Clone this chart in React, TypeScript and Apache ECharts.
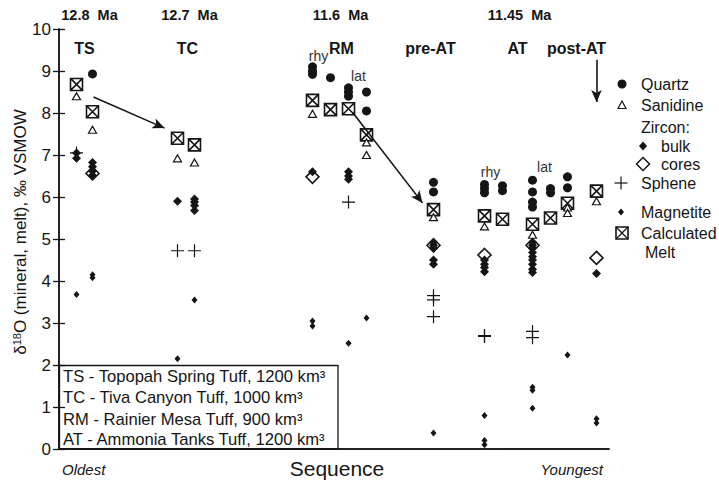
import React, { useEffect, useRef } from "react";
import * as echarts from "echarts";

// ---- Sample columns along the sequence axis (0 = oldest edge, 550 = youngest edge)
const columns = ["TS-1", "TS-2", "TC-1", "TC-2", "RM-rhy-1", "RM-rhy-2", "RM-lat-1", "RM-lat-2", "pre-AT", "AT-rhy-1", "AT-rhy-2", "AT-lat-1", "AT-lat-2", "AT-lat-3", "post-AT"];
const columnPos = [17.5, 33.5, 118.5, 135.5, 253.5, 271.5, 289.5, 307.5, 374.5, 425.5, 443.5, 473.5, 491.5, 508.5, 537.5];

// ---- δ18O values: [column index, value]
const quartz: [number, number][] = [
  [1, 8.93],
  [4, 9.1], [4, 9.0], [4, 8.92], [5, 8.84],
  [6, 8.6], [6, 8.5], [6, 8.4], [7, 8.5], [7, 8.05],
  [8, 6.35], [8, 6.12],
  [9, 6.3], [9, 6.2], [9, 6.1], [10, 6.27], [10, 6.15],
  [11, 6.4], [11, 6.12], [11, 5.88], [11, 5.76], [12, 6.2], [12, 6.1], [13, 6.48], [13, 6.22],
];
const sanidine: [number, number][] = [
  [0, 8.4], [1, 7.6], [2, 6.92], [3, 6.82], [4, 7.98], [7, 7.3], [7, 7.0],
  [8, 5.52], [9, 5.3], [11, 5.1], [13, 5.75], [13, 5.62], [14, 5.9],
];
const zirconBulk: [number, number][] = [
  [0, 7.05], [0, 6.92], [1, 6.82], [1, 6.72], [1, 6.62], [1, 6.52],
  [2, 5.9], [3, 5.95], [3, 5.88], [3, 5.8], [3, 5.68],
  [4, 6.6], [6, 6.6], [6, 6.5], [6, 6.42],
  [8, 4.92], [8, 4.85], [8, 4.78], [8, 4.5], [8, 4.4],
  [9, 4.5], [9, 4.4], [9, 4.32], [9, 4.22],
  [11, 4.92], [11, 4.85], [11, 4.78], [11, 4.68], [11, 4.58], [11, 4.5], [11, 4.4], [11, 4.28], [11, 4.2],
  [14, 4.18],
];
const zirconCores: [number, number][] = [[1, 6.56], [4, 6.48], [8, 4.85], [9, 4.62], [11, 4.85], [14, 4.55]];
const sphene: [number, number][] = [
  [0, 7.05], [2, 4.72], [3, 4.72], [6, 5.88],
  [8, 3.65], [8, 3.55], [8, 3.15], [9, 2.7], [9, 2.68], [11, 2.8], [11, 2.65],
];
const magnetite: [number, number][] = [
  [0, 3.68], [1, 4.15], [1, 4.08], [2, 2.15], [3, 3.55],
  [4, 3.05], [4, 2.93], [6, 2.52], [7, 3.12],
  [8, 0.38], [9, 0.8], [9, 0.2], [9, 0.1], [11, 1.47], [11, 1.4], [11, 0.97], [13, 2.24],
  [14, 0.72], [14, 0.62],
];
const calcMelt: [number, number][] = [
  [0, 8.68], [1, 8.03], [2, 7.4], [3, 7.24], [4, 8.3], [5, 8.08], [6, 8.1], [7, 7.48],
  [8, 5.7], [9, 5.55], [10, 5.47], [11, 5.35], [12, 5.5], [13, 5.85], [14, 6.14],
];

// ---- Arrows (sequence position, δ18O)
const arrows: [[number, number], [number, number]][] = [
  [[34.5, 8.38], [105.5, 7.64]],
  [[293.5, 8.02], [363.5, 5.86]],
  [[537.5, 9.27], [537.5, 8.26]],
];

// ---- Labels
const ageLabels = ["12.8  Ma", "12.7  Ma", "11.6  Ma", "11.45  Ma"];
const ageLabelPos = [30.5, 130.5, 281.5, 460.5];
const unitLabels = ["TS", "TC", "RM", "pre-AT", "AT", "post-AT"];
const unitLabelPos = [25.5, 128.5, 282.5, 371.5, 458.5, 517.5];
const subLabels = ["rhy", "lat", "rhy", "lat"];
const subLabelPos: [number, number][] = [[259.5, 9.35], [299.5, 8.88], [431.5, 6.6], [485.5, 6.72]];
const yTickValues = [0, 1, 2, 3, 4, 5, 6, 7, 8, 9, 10];
const keyLines = [
  "TS - Topopah Spring Tuff, 1200 km³",
  "TC - Tiva Canyon Tuff, 1000 km³",
  "RM - Rainier Mesa Tuff, 900 km³",
  "AT - Ammonia Tanks Tuff, 1200 km³",
];

const FONT = "'Liberation Sans', Arial, Helvetica, sans-serif";
const INK = "#151515";
const GL = 59, GT = 29, GW = 550, GH = 420;
const px = (s: number) => GL + (s / 550) * GW;
const py = (v: number) => GT + GH - (v / 10) * GH;

const BOXX = "path://M0,0L12,0L12,12L0,12Z M0,0L12,12 M12,0L0,12";
const PLUS = "path://M6,0L6,12 M0,6L12,6";

const toXY = (arr: [number, number][]) => arr.map(([c, v]) => [columnPos[c], v]);

export default function App() {
  const ref = useRef<HTMLDivElement>(null);
  useEffect(() => {
    document.body.style.margin = "0";
    const chart = echarts.init(ref.current!, undefined, { renderer: "svg" });

    const graphic: any[] = [];
    ageLabels.forEach((t, i) =>
      graphic.push({ type: "text", x: px(ageLabelPos[i]), y: 15, style: { text: t, font: `bold 14.5px ${FONT}`, fill: INK, align: "center", verticalAlign: "middle" } })
    );
    unitLabels.forEach((t, i) =>
      graphic.push({ type: "text", x: px(unitLabelPos[i]), y: 48, style: { text: t, font: `bold 16px ${FONT}`, fill: INK, align: "center", verticalAlign: "middle" } })
    );
    subLabels.forEach((t, i) =>
      graphic.push({ type: "text", x: px(subLabelPos[i][0]), y: py(subLabelPos[i][1]), style: { text: t, font: `14px ${FONT}`, fill: "#333", align: "center", verticalAlign: "middle" } })
    );
    // y-axis title
    graphic.push({
      type: "text", x: 20, y: 232, rotation: Math.PI / 2,
      style: {
        text: "δ{sup|18}O (mineral, melt), ‰ VSMOW",
        font: `17px ${FONT}`, fill: INK, align: "center", verticalAlign: "middle",
        rich: { sup: { fontSize: 11, fontFamily: FONT, verticalAlign: "top", fill: INK } },
      },
    });
    // bottom labels
    graphic.push({ type: "text", x: 62, y: 469, style: { text: "Oldest", font: `italic 15px ${FONT}`, fill: INK, align: "left", verticalAlign: "middle" } });
    graphic.push({ type: "text", x: 337, y: 468, style: { text: "Sequence", font: `21px ${FONT}`, fill: INK, align: "center", verticalAlign: "middle" } });
    graphic.push({ type: "text", x: 603, y: 469, style: { text: "Youngest", font: `italic 15px ${FONT}`, fill: INK, align: "right", verticalAlign: "middle" } });
    // key box
    graphic.push({ type: "rect", shape: { x: 59.5, y: 365.5, width: 278.5, height: 83.5 }, style: { fill: "#fff", stroke: INK, lineWidth: 1.3 } });
    [376, 397, 419, 439].forEach((y, i) =>
      graphic.push({ type: "text", x: 63, y, style: { text: keyLines[i], font: `16.6px ${FONT}`, fill: INK, align: "left", verticalAlign: "middle" } })
    );
    // right-hand symbol legend
    const lt = (x: number, y: number, t: string) =>
      graphic.push({ type: "text", x, y, style: { text: t, font: `16px ${FONT}`, fill: INK, align: "left", verticalAlign: "middle" } });
    graphic.push({ type: "circle", shape: { cx: 622, cy: 84, r: 4.5 }, style: { fill: INK } });
    lt(641, 84, "Quartz");
    graphic.push({ type: "polygon", shape: { points: [[622, 101], [626, 108.5], [618, 108.5]] }, style: { fill: "#fff", stroke: INK, lineWidth: 1.2 } });
    lt(641, 105, "Sanidine");
    lt(641, 127, "Zircon:");
    graphic.push({ type: "polygon", shape: { points: [[643, 141.5], [647, 146], [643, 150.5], [639, 146]] }, style: { fill: INK } });
    lt(661, 146, "bulk");
    graphic.push({ type: "polygon", shape: { points: [[643, 157.5], [649.5, 164], [643, 170.5], [636.5, 164]] }, style: { fill: "#fff", stroke: INK, lineWidth: 1.5 } });
    lt(661, 164, "cores");
    graphic.push({ type: "line", shape: { x1: 621, y1: 176.5, x2: 621, y2: 189.5 }, style: { stroke: INK, lineWidth: 1.2 } });
    graphic.push({ type: "line", shape: { x1: 614.5, y1: 183, x2: 627.5, y2: 183 }, style: { stroke: INK, lineWidth: 1.2 } });
    lt(641, 183, "Sphene");
    graphic.push({ type: "polygon", shape: { points: [[621, 208.5], [624, 212], [621, 215.5], [618, 212]] }, style: { fill: INK } });
    lt(641, 212, "Magnetite");
    graphic.push({ type: "rect", shape: { x: 616, y: 227, width: 12, height: 12 }, style: { fill: "#fff", stroke: INK, lineWidth: 1.6 } });
    graphic.push({ type: "line", shape: { x1: 616, y1: 227, x2: 628, y2: 239 }, style: { stroke: INK, lineWidth: 1.2 } });
    graphic.push({ type: "line", shape: { x1: 628, y1: 227, x2: 616, y2: 239 }, style: { stroke: INK, lineWidth: 1.2 } });
    lt(641, 233, "Calculated");
    lt(645, 252, "Melt");

    const axisLine = { show: true, lineStyle: { color: INK, width: 1.5 } };
    const base = { type: "scatter", silent: true, emphasis: { disabled: true }, xAxisIndex: 0, yAxisIndex: 0 } as any;

    chart.setOption({
      animation: false,
      backgroundColor: "#fff",
      grid: { left: GL, top: GT, width: GW, height: GH, containLabel: false },
      xAxis: [
        { type: "value", min: 0, max: 550, position: "bottom", axisLine, axisTick: { show: false }, axisLabel: { show: false }, splitLine: { show: false } },
        { type: "value", min: 0, max: 550, position: "top", axisLine, axisTick: { show: false }, axisLabel: { show: false }, splitLine: { show: false } },
      ],
      yAxis: [
        {
          type: "value", min: 0, max: 10, interval: 1, position: "left", axisLine,
          axisTick: { show: true, length: 6, lineStyle: { color: INK, width: 1.3 } },
          axisLabel: { show: true, fontSize: 17, color: INK, fontFamily: FONT, margin: 8, formatter: (v: number) => (yTickValues.includes(v) ? String(v) : "") },
          splitLine: { show: false },
        },
        {
          type: "value", min: 0, max: 10, interval: 1, position: "right", axisLine,
          axisTick: { show: true, length: 6, lineStyle: { color: INK, width: 1.3 } },
          axisLabel: { show: false }, splitLine: { show: false },
        },
      ],
      series: [
        {
          ...base, name: "Arrows", data: [],
          markLine: {
            silent: true, symbol: ["none", "arrow"], symbolSize: [8, 12], label: { show: false },
            lineStyle: { color: INK, width: 1.6, type: "solid" }, emphasis: { disabled: true },
            data: arrows.map(([a, b]) => [{ coord: a }, { coord: b }]),
          },
        },
        { ...base, name: "Calculated Melt", data: toXY(calcMelt), symbol: BOXX, symbolSize: 12, itemStyle: { color: "#fff", borderColor: INK, borderWidth: 1.6, opacity: 1 } },
        { ...base, name: "Sanidine", data: toXY(sanidine), symbol: "triangle", symbolSize: [8, 7], itemStyle: { color: "#fff", borderColor: INK, borderWidth: 1.2, opacity: 1 } },
        { ...base, name: "Quartz", data: toXY(quartz), symbol: "circle", symbolSize: 9, itemStyle: { color: INK, opacity: 1 } },
        { ...base, name: "Zircon cores", data: toXY(zirconCores), symbol: "diamond", symbolSize: 13, itemStyle: { color: "#fff", borderColor: INK, borderWidth: 1.6, opacity: 1 } },
        { ...base, name: "Zircon bulk", data: toXY(zirconBulk), symbol: "diamond", symbolSize: [9, 9], itemStyle: { color: INK, opacity: 1 } },
        { ...base, name: "Sphene", data: toXY(sphene), symbol: PLUS, symbolSize: 13, itemStyle: { color: "transparent", borderColor: INK, borderWidth: 1.2, opacity: 1 } },
        { ...base, name: "Magnetite", data: toXY(magnetite), symbol: "diamond", symbolSize: [6, 7], itemStyle: { color: INK, opacity: 1 } },
      ],
      graphic,
    });
    return () => chart.dispose();
  }, []);
  return <div ref={ref} style={{ width: 719, height: 482 }} />;
}
